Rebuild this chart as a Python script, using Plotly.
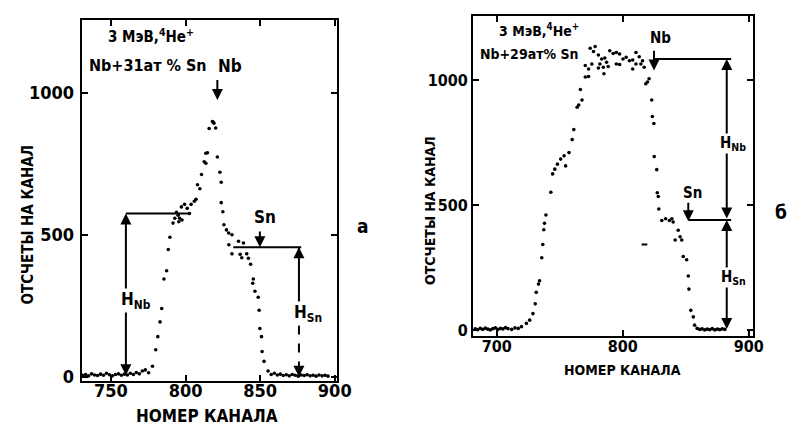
import plotly.graph_objects as go

# ---------------- data: panel a (Nb + 31 at.% Sn) ----------------
a_channel = [731, 733, 735, 737, 739, 741, 743, 745, 747, 749, 751, 753, 755, 757, 759,
             761, 763, 765, 767, 769, 771, 773, 775.2, 777.8, 780, 781.4, 782.9, 784,
             785.5, 787.3, 788.4, 789.5, 791.6, 792.8, 793.9, 795, 795.5, 796, 797.2,
             797.6, 799.3, 801.1, 802.6, 803.7, 805.9, 807, 808, 809.6, 810.7, 812.5,
             813.6, 813.6, 814.7, 815.8, 818, 818.5, 819, 820.2, 821.3, 823, 823.9,
             823.9, 825, 825.7, 827.4, 828.9, 829, 831.1, 831.1, 835.5, 836.6, 837.7,
             838.8, 841, 842.1, 843.6, 845, 845.4, 846.5, 848.7, 849.3, 849.8, 850.9,
             851.3, 852.6, 855.3, 857.4, 859.5, 861.5, 863.5, 865.5, 867.5, 869.5,
             871.5, 873.5, 875.5, 877.5, 879.5, 881.5, 883.5, 885.5, 887.5, 889.5,
             891.5, 893.5, 895.5, 897.5]
a_counts = [5, 8, 3, 10, 6, 4, 9, 5, 12, 7, 3, 8, 10, 5, 9,
            6, 12, 8, 15, 10, 20, 24, 14, 37, 95, 141, 193, 240,
            344, 373, 448, 491, 541, 558, 579, 569, 546, 558, 598,
            552, 607, 593, 575, 607, 618, 625, 676, 662, 712, 757,
            752, 787, 789, 874, 899, 896, 893, 876, 774, 720, 685,
            613, 581, 535, 517, 506, 465, 500, 433, 477, 431, 419,
            471, 433, 417, 396, 329, 344, 301, 280, 234, 170, 141,
            89, 54, 20, 8, 12, 6, 9, 4, 7, 3,
            8, 5, 2, 6, 4, 7, 3, 5, 2,
            6, 3, 5, 2]

# ---------------- data: panel б (Nb + 29 at.% Sn) ----------------
b_channel = [683, 685, 687, 689, 691, 693, 695, 697, 699, 701, 703, 705, 707, 709,
             711.9, 714.5, 717.1, 719.7, 723.6, 726.2, 728.8, 730.6, 731.4, 733.2, 734,
             735.8, 736.6, 737.4, 737.9, 739.1, 743, 744.4, 746.1, 748.2, 750.8, 753.5,
             754.7, 757.4, 759.9, 761.2, 763.8, 765.1, 766.4, 767.7, 770.3, 770.3,
             772.9, 772.9, 774.2, 775.5, 776.8, 778.1, 780.7, 780.7, 781.9, 783.3,
             784.6, 785.1, 785.8, 787.2, 788.5, 789.7, 792.4, 794.9, 794.9, 797.5,
             797.5, 800.2, 802.7, 805.3, 807.9, 807.9, 810.5, 810.5, 813.1, 814.4,
             815.7, 817, 818.3, 819.6, 820.9, 823, 823.5, 824.7, 825, 827, 827.4,
             828.2, 828.6, 831, 834, 837, 839, 840, 841.6, 844, 845.5, 846.8, 848,
             850.7, 852, 852.5, 854, 856, 857, 859, 861, 863, 865, 867, 869, 871,
             873, 875, 877, 879, 881]
b_counts = [6, 3, 8, 4, 9, 5, 2, 7, 10, 4, 8, 6, 11, 7,
            4, 10, 8, 15, 28, 41, 67, 106, 152, 185, 198,
            290, 343, 402, 428, 461, 552, 625, 644, 664, 684, 697,
            657, 710, 762, 802, 891, 900, 962, 920, 1012, 1058,
            1014, 1044, 1127, 1064, 1114, 1134, 1100, 1048, 1064, 1084,
            1051, 1025, 1088, 1071, 1054, 1117, 1106, 1110, 1064, 1104,
            1062, 1084, 1091, 1077, 1080, 1044, 1110, 1064, 1093, 1064,
            1077, 1051, 985, 992, 1005, 920, 854, 826, 694, 642, 550,
            535, 485, 439, 446, 439, 446, 433, 361, 400, 374, 361, 295,
            282, 217, 165, 80, 54, 21, 8, 4, 6, 2, 5, 3, 7,
            2, 5, 3, 6, 4]

# tick labels
a_xticks = [750, 800, 850, 900]
b_xticks = [700, 800, 900]
y_ticks = [0, 500, 1000]

# annotation levels
a_nb_level, a_sn_level = 575, 456
a_hnb_ch, a_hsn_ch = 760, 876
a_nb_ch, a_sn_ch = 821.3, 849.8
b_nb_level, b_sn_level = 1084, 441
b_h_ch = 882.5
b_nb_ch, b_sn_ch = 824.8, 852

FONT = "DejaVu Sans Condensed, Liberation Sans, sans-serif"
W, H = 797, 426


def px(x0, x1):
    return [x0 / W, x1 / W]


def py(top, bottom):
    return [1 - bottom / H, 1 - top / H]


fig = go.Figure()
fig.add_trace(go.Scatter(x=a_channel, y=a_counts, mode="markers",
                         marker=dict(color="black", size=3.6),
                         xaxis="x", yaxis="y", showlegend=False))
fig.add_trace(go.Scatter(x=b_channel, y=b_counts, mode="markers",
                         marker=dict(color="black", size=3.6),
                         xaxis="x2", yaxis="y2", showlegend=False))

axis_common = dict(showline=True, linecolor="black", linewidth=2, mirror="ticks",
                   ticks="inside", ticklen=6, tickwidth=2, tickcolor="black",
                   showgrid=False, zeroline=False, fixedrange=True)

fig.update_layout(
    width=W, height=H, margin=dict(l=0, r=0, t=0, b=0),
    paper_bgcolor="white", plot_bgcolor="white",
    xaxis=dict(domain=px(75, 335), range=[730.3, 901.3], tickvals=a_xticks,
               tickfont=dict(family=FONT, size=18, color="black", weight="bold"),
               ticklabelstandoff=-7, anchor="y", **axis_common),
    yaxis=dict(domain=py(12, 378), range=[-14, 1257], tickvals=y_ticks,
               tickfont=dict(family=FONT, size=18, color="black", weight="bold"),
               ticklabelstandoff=2, anchor="x", **axis_common),
    xaxis2=dict(domain=px(474, 759), range=[681.3, 903.1], tickvals=b_xticks,
                tickfont=dict(family=FONT, size=16, color="black", weight="bold"),
                ticklabelstandoff=-6, anchor="y2", **axis_common),
    yaxis2=dict(domain=py(8, 333), range=[-23.6, 1256], tickvals=y_ticks,
                tickfont=dict(family=FONT, size=16, color="black", weight="bold"),
                anchor="x2", **axis_common),
)

shapes = []
annots = []
LW = 2


def line(xr, yr, x0, y0, x1, y1, dash="solid"):
    shapes.append(dict(type="line", xref=xr, yref=yr, x0=x0, y0=y0, x1=x1, y1=y1,
                       line=dict(color="black", width=LW, dash=dash)))


def arrow(xr, yr, x, y, ax, ay, side="end"):
    annots.append(dict(xref=xr, yref=yr, axref=xr, ayref=yr, x=x, y=y, ax=ax, ay=ay,
                       text="", showarrow=True, arrowhead=2, arrowsize=1.1,
                       arrowwidth=LW, arrowcolor="black", arrowside=side,
                       standoff=0, startstandoff=0))


def text(xr, yr, x, y, t, size, bg=None, angle=0):
    d = dict(xref=xr, yref=yr, x=x, y=y, text=t, showarrow=False, textangle=angle,
             xanchor="center", yanchor="middle",
             font=dict(family=FONT, size=size, color="black", weight="bold"))
    if bg:
        d["bgcolor"] = bg
        d["borderpad"] = 0
    annots.append(d)


# ---- panel a annotations ----
line("x", "y", a_hnb_ch, a_nb_level, 802.6, a_nb_level)
arrow("x", "y", a_hnb_ch, a_nb_level, a_hnb_ch, 0, side="end+start")
text("x", "y", 766.5, 267, "H<sub>Nb</sub>", 17, bg="white")
arrow("x", "y", a_nb_ch, 975, a_nb_ch, 1050)
text("x", "y", 829.6, 1094, "Nb", 17)
text("x", "y", 777, 1200, "3 МэВ,<sup>4</sup>He<sup>+</sup>", 15)
text("x", "y", 775, 1095, "Nb+31ат % Sn", 16)
text("x", "y", 853, 563, "Sn", 17)
arrow("x", "y", a_sn_ch, a_sn_level, a_sn_ch, 517)
line("x", "y", 832, a_sn_level, a_hsn_ch + 1.5, a_sn_level)
line("x", "y", a_hsn_ch, a_sn_level, a_hsn_ch, 180)
line("x", "y", a_hsn_ch, 180, a_hsn_ch, 0, dash="dash")
arrow("x", "y", a_hsn_ch, a_sn_level, a_hsn_ch, a_sn_level - 40)
arrow("x", "y", a_hsn_ch, 0, a_hsn_ch, 40)
text("x", "y", 882, 222, "H<sub>Sn</sub>", 17, bg="white")

# ---- panel б annotations ----
text("x2", "y2", 733.5, 1200, "3 МэВ,<sup>4</sup>He<sup>+</sup>", 14)
text("x2", "y2", 725.7, 1105, "Nb+29ат% Sn", 14)
text("x2", "y2", 830, 1169, "Nb", 15)
arrow("x2", "y2", b_nb_ch, 1038, b_nb_ch, 1123)
line("x2", "y2", b_nb_ch, b_nb_level, 886, b_nb_level)
arrow("x2", "y2", b_h_ch, b_nb_level, b_h_ch, b_sn_level, side="end+start")
text("x2", "y2", 887.5, 746, "H<sub>Nb</sub>", 15, bg="white")
text("x2", "y2", 855.6, 547, "Sn", 15)
arrow("x2", "y2", b_sn_ch, b_sn_level - 5, b_sn_ch, 516)
line("x2", "y2", b_sn_ch, b_sn_level, 886, b_sn_level)
arrow("x2", "y2", b_h_ch, b_sn_level, b_h_ch, 0, side="end+start")
text("x2", "y2", 887.5, 213, "H<sub>Sn</sub>", 15, bg="white")
line("x2", "y2", 815, 343, 819.5, 343)

# ---- axis titles and panel letters (paper coords) ----
text("paper", "paper", 20 / W, 1 - 220 / H, "ОТСЧЕТЫ НА КАНАЛ", 15, angle=-90)
text("paper", "paper", 203 / W, 1 - 414 / H, "НОМЕР КАНАЛА", 17)
text("paper", "paper", 430 / W, 1 - 205 / H, "ОТСЧЕТЫ НА КАНАЛ", 14, angle=-90)
text("paper", "paper", 626 / W, 1 - 367 / H, "НОМЕР КАНАЛА", 14)
text("paper", "paper", 362 / W, 1 - 221 / H, "а", 19)
text("paper", "paper", 788 / W, 1 - 207 / H, "б", 19)

fig.update_layout(shapes=shapes, annotations=annots)
fig.write_html("out.html")
